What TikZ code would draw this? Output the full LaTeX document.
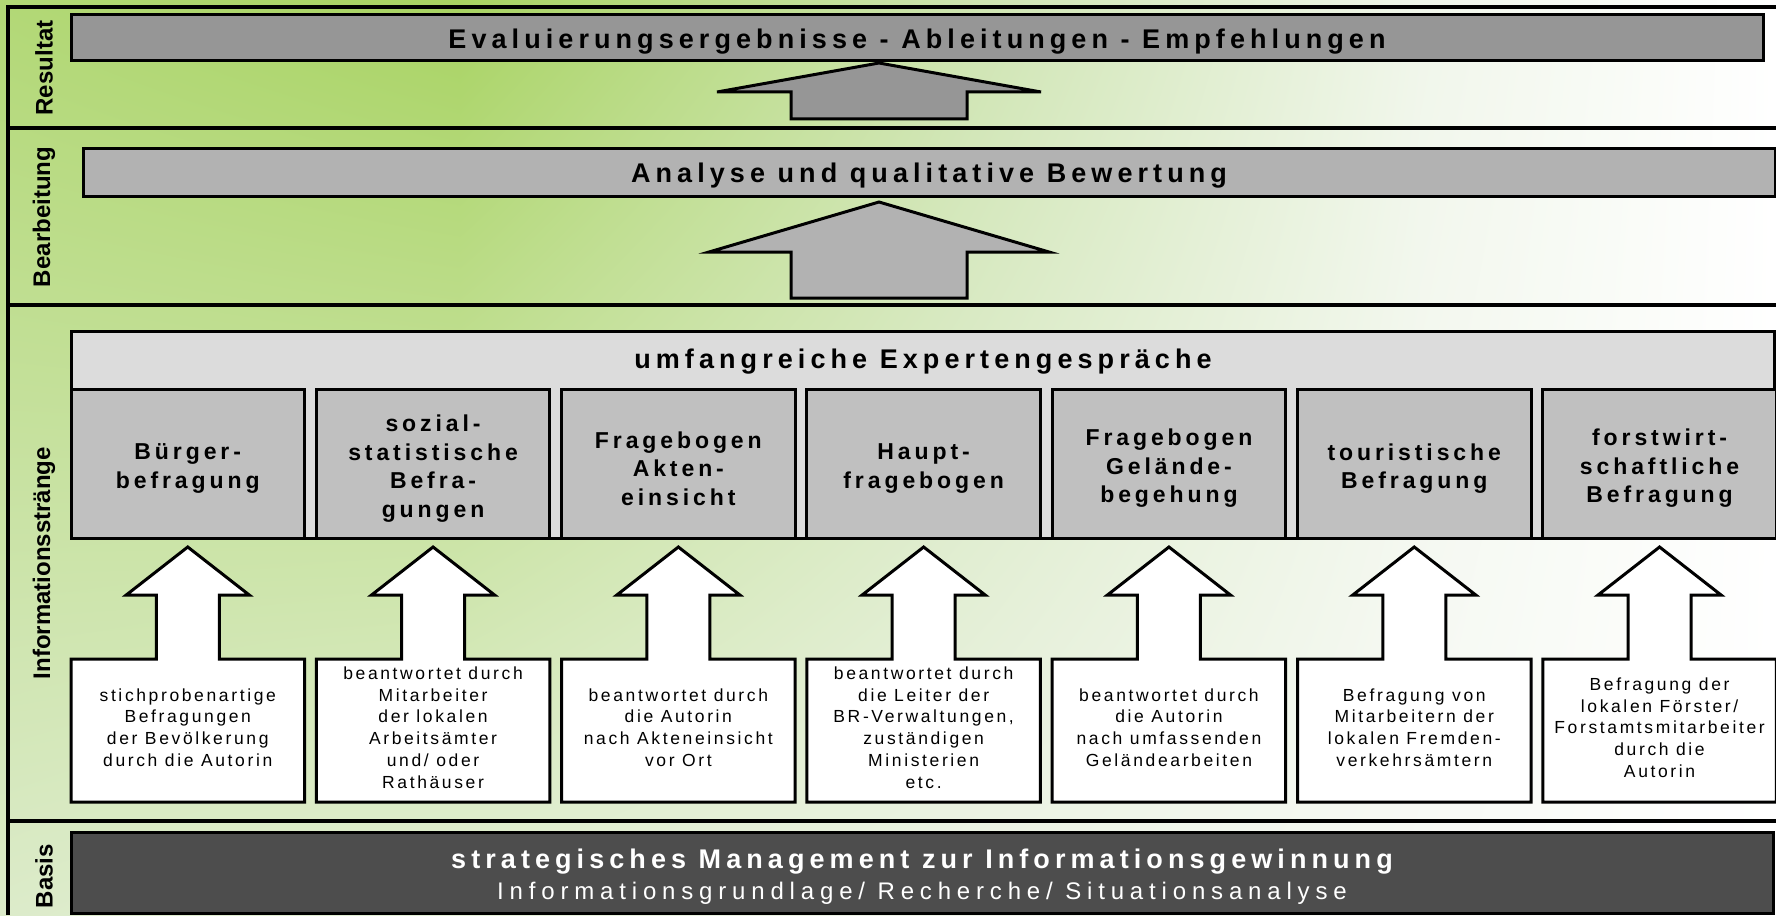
\documentclass[tikz,border=0pt]{standalone}
\usepackage{fontspec}
\usetikzlibrary{shadings}
\setmainfont{Liberation Sans}
\newfontfamily\lsbold[LetterSpace=17]{Liberation Sans}
\newfontfamily\lsboldT[LetterSpace=18.8]{Liberation Sans}
\newfontfamily\lsreg[LetterSpace=15]{Liberation Sans}
\newfontfamily\lswide[LetterSpace=24.3]{Liberation Sans}
\definecolor{gTa}{RGB}{178,216,118}
\definecolor{gTb}{RGB}{168,211,98}
\definecolor{gTc}{RGB}{205,228,175}
\definecolor{gTd}{RGB}{240,246,234}
\definecolor{gBa}{RGB}{220,235,202}
\definecolor{gBb}{RGB}{228,240,215}
\definecolor{gBc}{RGB}{238,244,232}
\definecolor{gBd}{RGB}{248,250,246}
\definecolor{barA}{RGB}{150,150,150}
\definecolor{barB}{RGB}{178,178,178}
\definecolor{expgray}{RGB}{220,220,220}
\definecolor{subgray}{RGB}{192,192,192}
\definecolor{basisgray}{RGB}{77,77,77}
\newcommand\myinfobox[3]{%
 \pgfmathsetmacro{\myL}{71+245.3*#1}%
 \pgfmathsetmacro{\myR}{\myL+233.5}%
 \pgfmathsetmacro{\myC}{\myL+116.75}%
 \draw[subbox] (\myL,389) rectangle (\myR,538);
 \node[subttl] (s#1) at (\myC,468.5) {#2};
 \draw[whitebox] (\myL,802) -- (\myL,659) -- ({\myC-31.5},659) -- ({\myC-31.5},595) -- ({\myC-61.5},595) -- (\myC,547) -- ({\myC+61.5},595) -- ({\myC+31.5},595) -- ({\myC+31.5},659) -- (\myR,659) -- (\myR,802) -- cycle;
 \node[smalltxt] (w#1) at (\myC,727.5) {#3};
}
\begin{document}
\begin{tikzpicture}[x=1pt,y=-1pt,
  frameline/.style={line width=3.2pt},
  barbox/.style={draw=black, line width=3pt, inner sep=0pt},
  subbox/.style={draw=black, line width=3pt, fill=subgray},
  whitebox/.style={draw=black, line width=3pt, fill=white, line join=miter},
  bigarrow/.style={draw=black, line width=3pt, line join=miter},
  ttl/.style={font=\lsboldT\bfseries\fontsize{27}{32}\selectfont, text=black, inner sep=0pt},
  subttl/.style={align=center, inner sep=0pt, font=\lsbold\bfseries\fontsize{23}{28.5}\selectfont},
  smalltxt/.style={align=center, inner sep=0pt, font=\lsreg\fontsize{17.5}{21.7}\selectfont},
  sidelabel/.style={rotate=90, inner sep=0pt, font=\bfseries\fontsize{24}{28}\selectfont}
]
\useasboundingbox (0,0) rectangle (1776,915);
% background
\shade[upper left=gTa, upper right=gTb, lower left=gBa, lower right=gBb] (0,0) rectangle (461,915);
\shade[upper left=gTb, upper right=gTc, lower left=gBb, lower right=gBc] (460,0) rectangle (961,915);
\shade[upper left=gTc, upper right=gTd, lower left=gBc, lower right=gBd] (960,0) rectangle (1421,915);
\shade[upper left=gTd, upper right=white, lower left=gBd, lower right=white] (1420,0) rectangle (1776,915);
% frame
\draw[frameline] (8,915) -- (8,7) -- (1776,7);
\draw[frameline] (8,128) -- (1776,128);
\draw[frameline] (8,305) -- (1776,305);
\draw[frameline] (8,821) -- (1776,821);
% side labels
\node[sidelabel] (lres) at (44,68) {Resultat};
\node[sidelabel] (lbea) at (44,217) {Bearbeitung};
\node[sidelabel] (linf) at (44,563) {Informationsstränge};
\node[sidelabel] (lbas) at (44,876) {Basis};
% Resultat
\node[barbox, fill=barA, minimum width=1692pt, minimum height=46pt] (res) at (917,38) {};
\node[ttl] (restxt) at (917,41.5) {Evaluierungsergebnisse - Ableitungen - Empfehlungen};
\draw[bigarrow, fill=barA] (791,119) -- (791,92) -- (717,92) -- (879,63) -- (1041,92) -- (967,92) -- (967,119) -- cycle;
% Bearbeitung
\node[barbox, fill=barB, minimum width=1692pt, minimum height=48pt] (bea) at (929,172) {};
\node[ttl] (beatxt) at (929,176) {Analyse und qualitative Bewertung};
\draw[bigarrow, fill=barB] (791,298) -- (791,252) -- (709,252) -- (879,202) -- (1049,252) -- (967,252) -- (967,298) -- cycle;
% Informationsstraenge
\draw[line width=3pt, fill=expgray] (71,331) rectangle (1774.5,538);
\node[ttl] (exp) at (923,361.5) {umfangreiche Expertengespräche};
\myinfobox{0}{Bürger-\\befragung}{stichprobenartige\\Befragungen\\der Bevölkerung\\durch die Autorin}
\myinfobox{1}{sozial-\\statistische\\Befra-\\gungen}{beantwortet durch\\Mitarbeiter\\der lokalen\\Arbeitsämter\\und/ oder\\Rathäuser}
\myinfobox{2}{Fragebogen\\Akten-\\einsicht}{beantwortet durch\\die Autorin\\nach Akteneinsicht\\vor Ort}
\myinfobox{3}{Haupt-\\fragebogen}{beantwortet durch\\die Leiter der\\BR-Verwaltungen,\\zuständigen\\Ministerien\\etc.}
\myinfobox{4}{Fragebogen\\Gelände-\\begehung}{beantwortet durch\\die Autorin\\nach umfassenden\\Geländearbeiten}
\myinfobox{5}{touristische\\Befragung}{Befragung von\\Mitarbeitern der\\lokalen Fremden-\\verkehrsämtern}
\myinfobox{6}{forstwirt-\\schaftliche\\Befragung}{Befragung der\\lokalen Förster/\\Forstamtsmitarbeiter\\durch die\\Autorin}
% Basis
\node[barbox, fill=basisgray, minimum width=1702pt, minimum height=81pt] (bas) at (922,872.5) {};
\node[text=white, inner sep=0pt, font=\lsboldT\bfseries\fontsize{27}{32}\selectfont] (bas1) at (922,861.5) {strategisches Management zur Informationsgewinnung};
\node[text=white, inner sep=0pt, font=\lswide\fontsize{24}{28}\selectfont] (bas2) at (922,893.5) {Informationsgrundlage/ Recherche/ Situationsanalyse};
\end{tikzpicture}
\end{document}
